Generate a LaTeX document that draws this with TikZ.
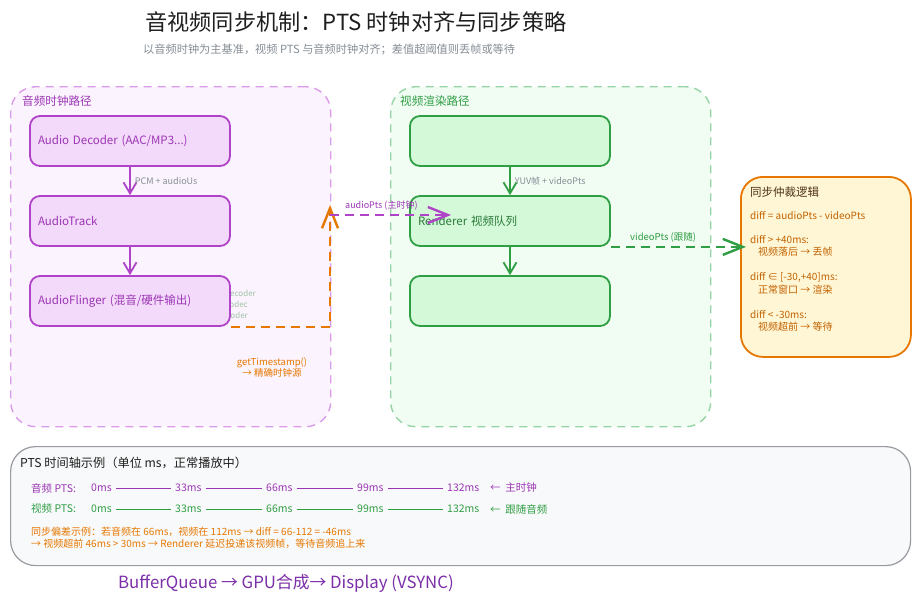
\documentclass[tikz,border=0pt]{standalone}
\usepackage{fontspec}
\setmainfont{Noto Sans CJK SC}
\usetikzlibrary{arrows.meta,calc}
\definecolor{grape}{HTML}{B044C8}
\definecolor{grapetxt}{HTML}{9C36B5}
\definecolor{grapefill}{HTML}{F3D9FA}
\definecolor{agroupfill}{HTML}{FBF3FD}
\definecolor{agroupline}{HTML}{DA9BE8}
\definecolor{grn}{HTML}{2F9E44}
\definecolor{grntxt}{HTML}{2B7A3A}
\definecolor{grnfill}{HTML}{D3F9D8}
\definecolor{vgroupfill}{HTML}{F1FCF3}
\definecolor{vgroupline}{HTML}{96D3A5}
\definecolor{orng}{HTML}{E67700}
\definecolor{orngtxt}{HTML}{C26200}
\definecolor{syncfill}{HTML}{FFF6D5}
\definecolor{synctitle}{HTML}{4D3319}
\definecolor{graytxt}{HTML}{868E96}
\definecolor{hidtxt}{HTML}{A3C4A8}
\definecolor{tlfill}{HTML}{F8F9FA}
\definecolor{tlline}{HTML}{9A9AA2}
\definecolor{darktxt}{HTML}{1E1E1E}
\definecolor{bqtxt}{HTML}{7B2FA8}
\tikzset{
  grp/.style={rectangle, rounded corners=25pt, line width=1.4pt, dash pattern=on 8pt off 6pt, anchor=north west, inner sep=0pt},
  abox/.style={rectangle, rounded corners=10pt, draw=grape, fill=grapefill, line width=1.8pt, text width=184pt, inner xsep=8pt, minimum height=50pt, align=left, font=\fontsize{11.5}{13}\selectfont, text=grapetxt},
  vbox/.style={rectangle, rounded corners=10pt, draw=grn, fill=grnfill, line width=1.8pt, text width=184pt, inner xsep=8pt, minimum height=50pt, align=left, font=\fontsize{11.5}{13}\selectfont, text=grntxt},
  smallarr/.style={line width=1.8pt, -{Straight Barb[length=11pt,width=13pt]}},
  bigarr/.style={line width=2.4pt, dash pattern=on 9pt off 6pt, -{Straight Barb[length=20pt,width=16pt]}},
  lbl/.style={anchor=west, inner sep=0pt},
  edgelbl/.style={anchor=west, inner sep=0pt, font=\fontsize{9}{10}\selectfont, text=graytxt},
  synctxt/.style={anchor=west, inner sep=0pt, font=\fontsize{10}{11}\selectfont, text=orngtxt},
  rowtxt/.style={anchor=west, inner sep=0pt, font=\fontsize{10.5}{12}\selectfont},
}
\begin{document}
\begin{tikzpicture}[x=1pt,y=-1pt]
\useasboundingbox[fill=white] (0,0) rectangle (920,605);

% title
\node[lbl, font=\fontsize{22.2}{25}\selectfont, text=darktxt] (title) at (145,22) {音视频同步机制：PTS 时钟对齐与同步策略};
\node[lbl, font=\fontsize{11.2}{12}\selectfont, text=graytxt] (subtitle) at (143,50) {以音频时钟为主基准，视频 PTS 与音频时钟对齐；差值超阈值则丢帧或等待};

% groups
\node[grp, draw=agroupline, fill=agroupfill, minimum width=320pt, minimum height=340pt] (ag) at (10,86) {};
\node[lbl, font=\fontsize{11.6}{12}\selectfont, text=grapetxt] (aglbl) at (22,101) {音频时钟路径};
\node[grp, draw=vgroupline, fill=vgroupfill, minimum width=320pt, minimum height=340pt] (vg) at (390,86) {};
\node[lbl, font=\fontsize{11.6}{12}\selectfont, text=grn] (vglbl) at (400,101) {视频渲染路径};

% hidden fragments behind AudioFlinger
\node[anchor=east, inner sep=0pt, font=\fontsize{8}{9}\selectfont, text=hidtxt] (h1) at (256,293) {Video Decoder};
\node[anchor=east, inner sep=0pt, font=\fontsize{8}{9}\selectfont, text=hidtxt] (h2) at (248,304) {MediaCodec};
\node[anchor=east, inner sep=0pt, font=\fontsize{8}{9}\selectfont, text=hidtxt] (h3) at (248,315) {HW Decoder};

% audio boxes
\node[abox] (adec) at (130,141) {Audio Decoder (AAC/MP3...)};
\node[abox] (atrk) at (130,221) {AudioTrack};
\node[abox] (afl) at (130,301) {AudioFlinger (混音/硬件输出)};
\draw[smallarr, grape] (adec) -- (atrk) node[edgelbl, midway, xshift=4pt] (l1) {PCM + audioUs};
\draw[smallarr, grape] (atrk) -- (afl);

% video boxes
\node[vbox] (vdec) at (510,141) {};
\node[vbox] (rend) at (510,221) {Renderer 视频队列};
\node[vbox] (vout) at (510,301) {};
\draw[smallarr, grn] (vdec) -- (rend) node[edgelbl, midway, xshift=4pt] (l2) {YUV帧 + videoPts};
\draw[smallarr, grn] (rend) -- (vout);

% sync box
\node[rectangle, rounded corners=22pt, draw=orng, fill=syncfill, line width=1.8pt, minimum width=170pt, minimum height=180pt, anchor=north west, inner sep=0pt] (sync) at (740,176) {};
\node[lbl, font=\fontsize{11.5}{12}\selectfont, text=synctitle] (st) at (750,192) {同步仲裁逻辑};
\node[synctxt] (s1) at (750,216) {diff = audioPts - videoPts};
\node[synctxt] (s2) at (750,240) {diff > +40ms:};
\node[synctxt] (s3) at (758,252) {视频落后 → 丢帧};
\node[synctxt] (s4) at (750,277) {diff ∈ [-30,+40]ms:};
\node[synctxt] (s5) at (758,290) {正常窗口 → 渲染};
\node[synctxt] (s6) at (750,315) {diff < -30ms:};
\node[synctxt] (s7) at (758,327) {视频超前 → 等待};

% clock connectors
\coordinate (clk) at (330,205);
\draw[bigarr, orng] (afl.south east) -| (clk);
\node[anchor=center, inner sep=0pt, font=\fontsize{9.5}{11}\selectfont, text=orng, align=center] (gts) at (272,367) {getTimestamp()\\→ 精确时钟源};
\draw[bigarr, grape] ($(clk)+(0,10)$) -- ($(rend.west)+(42,-6)$);
\node[lbl, font=\fontsize{9}{10}\selectfont, text=grapetxt] (apl) at (345,206) {audioPts (主时钟)};
\draw[bigarr, grn] (rend.south east) -- ($(rend.south east -| sync.west)+(6,0)$);
\node[lbl, font=\fontsize{9.5}{10}\selectfont, text=grn] (vpl) at (630,237) {videoPts (跟随)};

% timeline box
\node[rectangle, rounded corners=25pt, draw=tlline, fill=tlfill, line width=1.2pt, minimum width=900pt, minimum height=119pt, anchor=north west, inner sep=0pt] (tl) at (10,446) {};
\node[lbl, font=\fontsize{12.2}{13}\selectfont, text=darktxt] (tlt) at (20,463) {PTS 时间轴示例（单位 ms，正常播放中）};

\begin{scope}[every node/.style={rowtxt, text=grapetxt}]
\node (ar) at (31,488) {音频 PTS:};
\node (a0) at (91,488) {0ms};
\node (a1) at (175,488) {33ms};
\node (a2) at (266,488) {66ms};
\node (a3) at (357,488) {99ms};
\node (a4) at (447,488) {132ms};
\node (an) at (490,488) {←\ \ 主时钟};
\end{scope}
\foreach \p/\q in {a0/a1,a1/a2,a2/a3,a3/a4}
  \draw[grapetxt, line width=0.8pt, shorten <=4pt, shorten >=4pt] (\p.east) -- (\q.west);

\begin{scope}[every node/.style={rowtxt, text=grn}]
\node (vr) at (31,509) {视频 PTS:};
\node (v0) at (91,509) {0ms};
\node (v1) at (175,509) {33ms};
\node (v2) at (266,509) {66ms};
\node (v3) at (357,509) {99ms};
\node (v4) at (447,509) {132ms};
\node (vn) at (490,509) {←\ \ 跟随音频};
\end{scope}
\foreach \p/\q in {v0/v1,v1/v2,v2/v3,v3/v4}
  \draw[grn, line width=0.8pt, shorten <=4pt, shorten >=4pt] (\p.east) -- (\q.west);

\node[lbl, font=\fontsize{10}{11}\selectfont, text=orng] (ex1) at (31,532) {同步偏差示例：若音频在 66ms，视频在 112ms → diff = 66-112 = -46ms};
\node[lbl, font=\fontsize{10}{11}\selectfont, text=orng] (ex2) at (31,544) {→ 视频超前 46ms > 30ms → Renderer 延迟投递该视频帧，等待音频追上来};

\node[lbl, font=\fontsize{16.8}{19}\selectfont, text=bqtxt] (bq) at (118,583) {BufferQueue → GPU合成→ Display (VSYNC)};
\end{tikzpicture}
\end{document}
